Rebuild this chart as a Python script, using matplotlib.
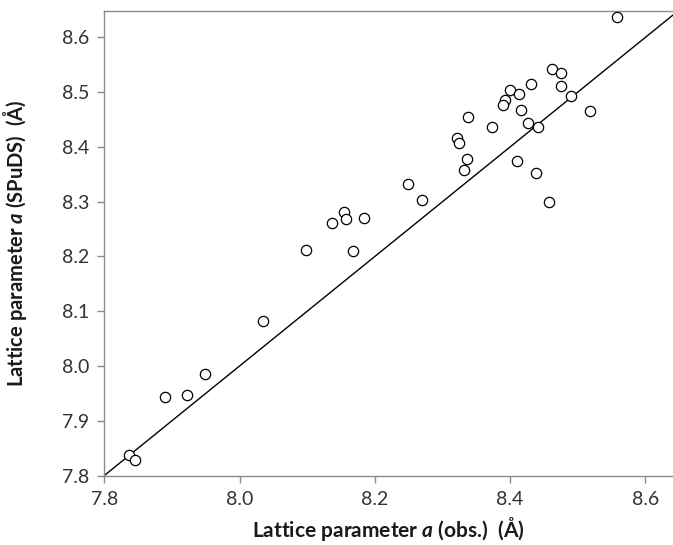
import matplotlib
matplotlib.use("Agg")
import matplotlib.pyplot as plt
import numpy as np

plt.rcParams['font.family'] = ['Lato', 'DejaVu Sans']
plt.rcParams['mathtext.fontset'] = 'custom'
plt.rcParams['mathtext.bfit'] = 'Lato:bold:italic'

# observed vs SPuDS lattice parameters (Angstrom)
a_obs = [8.558, 8.462, 8.475, 8.475, 8.431, 8.400, 8.413, 8.393, 8.389, 8.490,
         8.416, 8.518, 8.338, 8.373, 8.426, 8.441, 8.322, 8.325, 8.337, 8.410,
         8.332, 8.439, 8.249, 8.270, 8.458, 8.154, 8.158, 8.136, 8.184, 8.098,
         8.168, 8.034, 7.949, 7.923, 7.890, 7.837, 7.846]
a_spuds = [8.637, 8.543, 8.535, 8.511, 8.515, 8.504, 8.497, 8.485, 8.476, 8.494,
           8.467, 8.466, 8.454, 8.437, 8.444, 8.436, 8.416, 8.408, 8.378, 8.374,
           8.358, 8.352, 8.333, 8.304, 8.299, 8.281, 8.269, 8.262, 8.271, 8.211,
           8.210, 8.083, 7.986, 7.947, 7.944, 7.838, 7.829]

xticks = [7.8, 8.0, 8.2, 8.4, 8.6]
yticks = [7.8, 7.9, 8.0, 8.1, 8.2, 8.3, 8.4, 8.5, 8.6]

fig = plt.figure(figsize=(6.73, 5.45), dpi=100)
ax = fig.add_axes([0.155, 0.1275, 0.845, 0.853])

# y = x reference line
ax.plot([7.8, 8.7], [7.8, 8.7], color='black', lw=1.0, zorder=2)
ax.scatter(a_obs, a_spuds, s=55, facecolors='white', edgecolors='black',
           linewidths=0.9, zorder=3)

ax.set_xlim(7.8, 8.641)
ax.set_ylim(7.8, 8.649)
ax.set_xticks(xticks)
ax.set_xticklabels(['%.1f' % v for v in xticks])
ax.set_yticks(yticks)
ax.set_yticklabels(['%.1f' % v for v in yticks])

for side in ['left', 'bottom', 'top']:
    ax.spines[side].set_color('#8c8c8c')
    ax.spines[side].set_linewidth(1.0)
ax.spines['right'].set_visible(False)
ax.tick_params(direction='out', length=5, width=1, color='#8c8c8c',
               labelsize=14, labelcolor='#333333', pad=6)

ax.set_xlabel(r'Lattice parameter $\mathbfit{a}$ (obs.)  (Å)', fontsize=15,
              fontweight='bold', color='#1a1a1a', labelpad=5)
ax.set_ylabel(r'Lattice parameter $\mathbfit{a}$ (SPuDS)  (Å)', fontsize=14.5,
              fontweight='bold', color='#1a1a1a')
ax.yaxis.set_label_coords(-0.133, 0.5)

fig.savefig('out.png', dpi=100)
